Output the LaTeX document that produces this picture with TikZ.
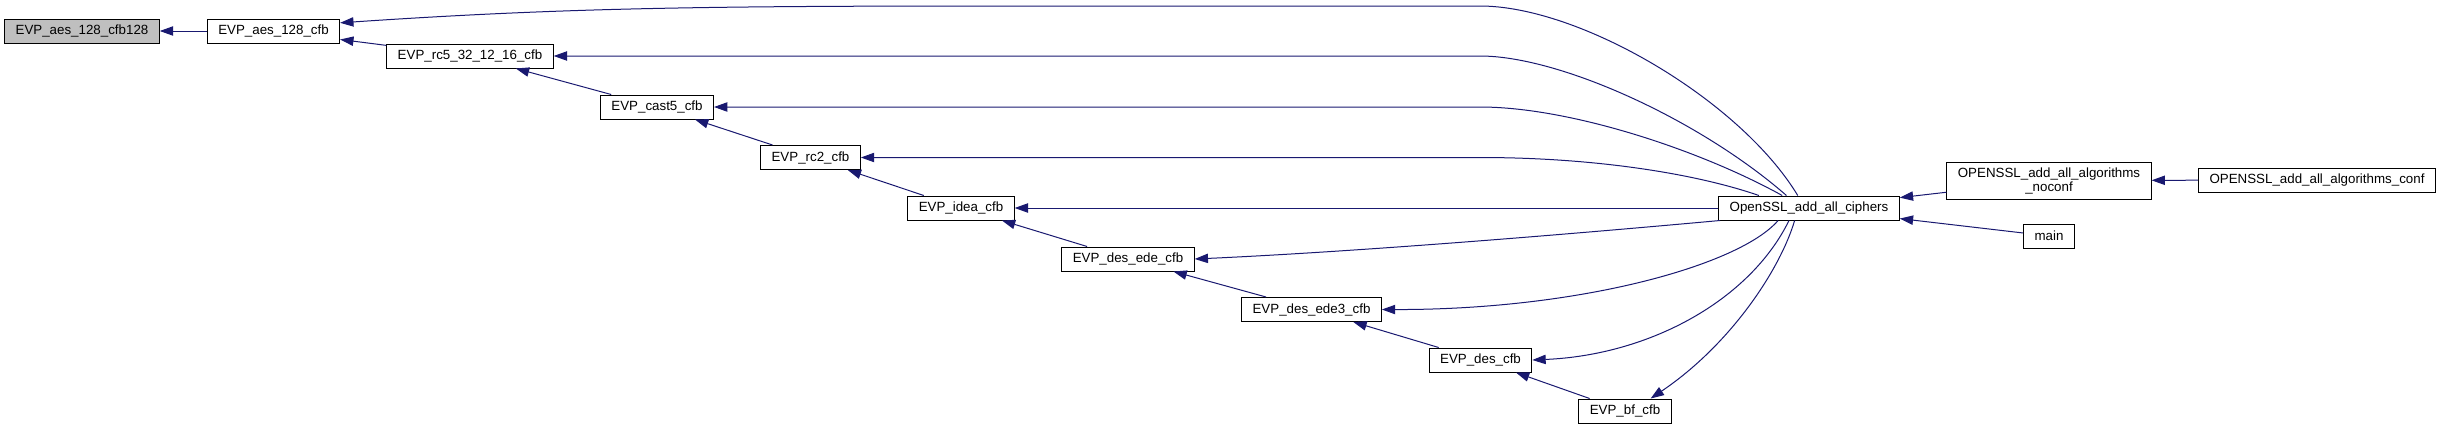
\documentclass[tikz,border=0pt]{standalone}
\usepackage{fontspec}
\setmainfont{Liberation Sans}
\usetikzlibrary{arrows.meta}
\definecolor{edgeblue}{HTML}{191970}
\definecolor{rootgray}{HTML}{BFBFBF}

\begin{document}
\begin{tikzpicture}[
    x=0.75pt,
    y=-0.75pt,
    font=\fontsize{10}{10.5}\selectfont,
    funcblock/.style={
        draw=black,
        fill=white,
        line width=0.75pt,
        minimum height=18pt,
        inner xsep=8.2pt,
        inner ysep=0pt,
        align=center
    },
    rootblock/.style={
        funcblock,
        fill=rootgray
    },
    callarrow/.style={{Triangle[length=10pt,width=7pt]}-, draw=edgeblue, line width=0.75pt}
]
\useasboundingbox (0,0) rectangle (2441,429);
% ============================================================
% CALLEE CHAIN -- stepping down to the right
% ============================================================
\node[rootblock] (cfb128) at (82,31) {EVP\_aes\_128\_cfb128};
\node[funcblock] (aes128) at (273.5,31) {EVP\_aes\_128\_cfb};
\node[funcblock] (rc5) at (470,56) {EVP\_rc5\_32\_12\_16\_cfb};
\node[funcblock] (cast5) at (657,107) {EVP\_cast5\_cfb};
\node[funcblock] (rc2) at (810.5,157.5) {EVP\_rc2\_cfb};
\node[funcblock] (idea) at (961,208) {EVP\_idea\_cfb};
\node[funcblock] (desede) at (1128,259) {EVP\_des\_ede\_cfb};
\node[funcblock] (desede3) at (1311.5,309.5) {EVP\_des\_ede3\_cfb};
\node[funcblock] (des) at (1480.5,360) {EVP\_des\_cfb};
\node[funcblock] (bf) at (1625,411) {EVP\_bf\_cfb};
% ============================================================
% CALLERS -- right hand side
% ============================================================
\node[funcblock] (ciphers) at (1809,208) {OpenSSL\_add\_all\_ciphers};
\node[funcblock, minimum height=27.75pt] (noconf) at (2049,180.5)
    {OPENSSL\_add\_all\_algorithms\\\_noconf};
\node[funcblock] (main) at (2049,236) {main};
\node[funcblock] (conf) at (2317,180) {OPENSSL\_add\_all\_algorithms\_conf};
% ============================================================
% STRAIGHT CALL EDGES
% ============================================================
\draw[callarrow] (cfb128)  -- (aes128);
\draw[callarrow] (aes128)  -- (rc5);
\draw[callarrow] (rc5)     -- (cast5);
\draw[callarrow] (cast5)   -- (rc2);
\draw[callarrow] (rc2)     -- (idea);
\draw[callarrow] (idea)    -- (desede);
\draw[callarrow] (desede)  -- (desede3);
\draw[callarrow] (desede3) -- (des);
\draw[callarrow] (des)     -- (bf);
\draw[callarrow] (idea)    -- (ciphers);
\draw[callarrow] (ciphers) -- (noconf);
\draw[callarrow] (ciphers) -- (main);
\draw[callarrow] (noconf)  -- (conf);
% ============================================================
% CURVED EDGES INTO OpenSSL_add_all_ciphers
% ============================================================
\draw[callarrow] (aes128.7) .. controls (560,8) and (700,6) .. (1000,6)
    -- (1480,6) .. controls (1580,6) and (1740,100) .. (ciphers.132);
\draw[callarrow] (rc5.east) -- (1480,56)
    .. controls (1560,56) and (1700,120) .. (ciphers.151);
\draw[callarrow] (cast5.east) -- (1480,107)
    .. controls (1570,107) and (1700,150) .. (ciphers.155);
\draw[callarrow] (rc2.east) -- (1480,157.5)
    .. controls (1600,157.5) and (1700,175) .. (ciphers.166);
\draw[callarrow] (desede.east)
    .. controls (1350,252) and (1550,236) .. (ciphers.188);
\draw[callarrow] (desede3.east)
    .. controls (1580,310) and (1740,265) .. (ciphers.202);
\draw[callarrow] (des.east)
    .. controls (1650,355) and (1750,300) .. (ciphers.212);
\draw[callarrow] (bf.26)
    .. controls (1730,345) and (1780,270) .. (ciphers.221);
\end{tikzpicture}
\end{document}
